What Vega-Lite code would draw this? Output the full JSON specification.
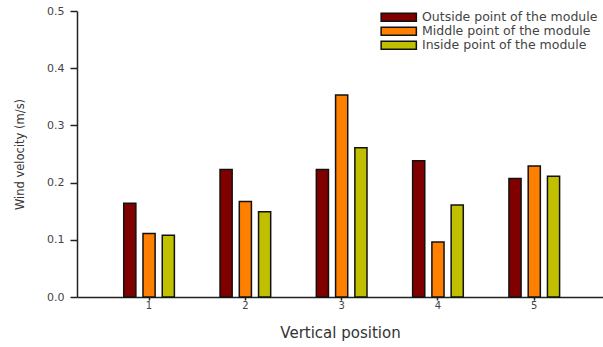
{
  "$schema": "https://vega.github.io/schema/vega-lite/v6.json",
  "width": 526,
  "height": 286,
  "autosize": {"type": "none"},
  "padding": {"left": 77, "top": 11, "right": 0, "bottom": 50},
  "background": "white",
  "config": {
    "view": {"stroke": null},
    "font": "DejaVu Sans",
    "axis": {"grid": false, "domainColor": "#222222", "tickColor": "#222222", "domainWidth": 1.5, "tickWidth": 1.5}
  },
  "data": {
    "values": [
      {"position": "1", "location": "Outside point of the module", "velocity": 0.164},
      {"position": "1", "location": "Middle point of the module", "velocity": 0.111},
      {"position": "1", "location": "Inside point of the module", "velocity": 0.108},
      {"position": "2", "location": "Outside point of the module", "velocity": 0.223},
      {"position": "2", "location": "Middle point of the module", "velocity": 0.167},
      {"position": "2", "location": "Inside point of the module", "velocity": 0.149},
      {"position": "3", "location": "Outside point of the module", "velocity": 0.223},
      {"position": "3", "location": "Middle point of the module", "velocity": 0.353},
      {"position": "3", "location": "Inside point of the module", "velocity": 0.261},
      {"position": "4", "location": "Outside point of the module", "velocity": 0.238},
      {"position": "4", "location": "Middle point of the module", "velocity": 0.096},
      {"position": "4", "location": "Inside point of the module", "velocity": 0.161},
      {"position": "5", "location": "Outside point of the module", "velocity": 0.207},
      {"position": "5", "location": "Middle point of the module", "velocity": 0.229},
      {"position": "5", "location": "Inside point of the module", "velocity": 0.211}
    ]
  },
  "mark": {"type": "bar", "stroke": "#111111", "strokeWidth": 1.5},
  "encoding": {
    "x": {
      "field": "position",
      "type": "ordinal",
      "scale": {"paddingInner": 0.4, "paddingOuter": 0.431, "align": 0.52},
      "axis": {
        "title": "Vertical position",
        "titleFontSize": 15,
        "titleFontWeight": "normal",
        "titleColor": "#333333",
        "titlePadding": 15,
        "labelAngle": 0,
        "labelFontSize": 10,
        "labelColor": "#444444",
        "labelPadding": 0,
        "tickSize": 3
      }
    },
    "xOffset": {
      "field": "location",
      "type": "nominal",
      "sort": ["Outside point of the module", "Middle point of the module", "Inside point of the module"],
      "scale": {"paddingInner": 0.37, "paddingOuter": 0.185}
    },
    "y": {
      "field": "velocity",
      "type": "quantitative",
      "scale": {"domain": [0, 0.5], "nice": false},
      "axis": {
        "title": "Wind velocity (m/s)",
        "titleFontSize": 11.5,
        "titleFontWeight": "normal",
        "titleColor": "#333333",
        "titlePadding": 21,
        "values": [0, 0.1, 0.2, 0.3, 0.4, 0.5],
        "format": ".1f",
        "labelFontSize": 11,
        "labelColor": "#444444",
        "labelPadding": 6,
        "tickSize": 7
      }
    },
    "color": {
      "field": "location",
      "type": "nominal",
      "sort": ["Outside point of the module", "Middle point of the module", "Inside point of the module"],
      "scale": {"range": ["#800000", "#FF8000", "#C0C000"]},
      "legend": {
        "title": null,
        "orient": "none",
        "legendX": 315.5,
        "legendY": 0,
        "padding": 0,
        "symbolType": "M-4.4,-1H4.4V1H-4.4Z",
        "symbolSize": 64,
        "symbolStrokeColor": "#111111",
        "symbolStrokeWidth": 1.5,
        "symbolOpacity": 1,
        "labelOffset": 17,
        "labelFontSize": 12.5,
        "labelColor": "#444444",
        "labelLimit": 300,
        "rowPadding": -1
      }
    }
  }
}
